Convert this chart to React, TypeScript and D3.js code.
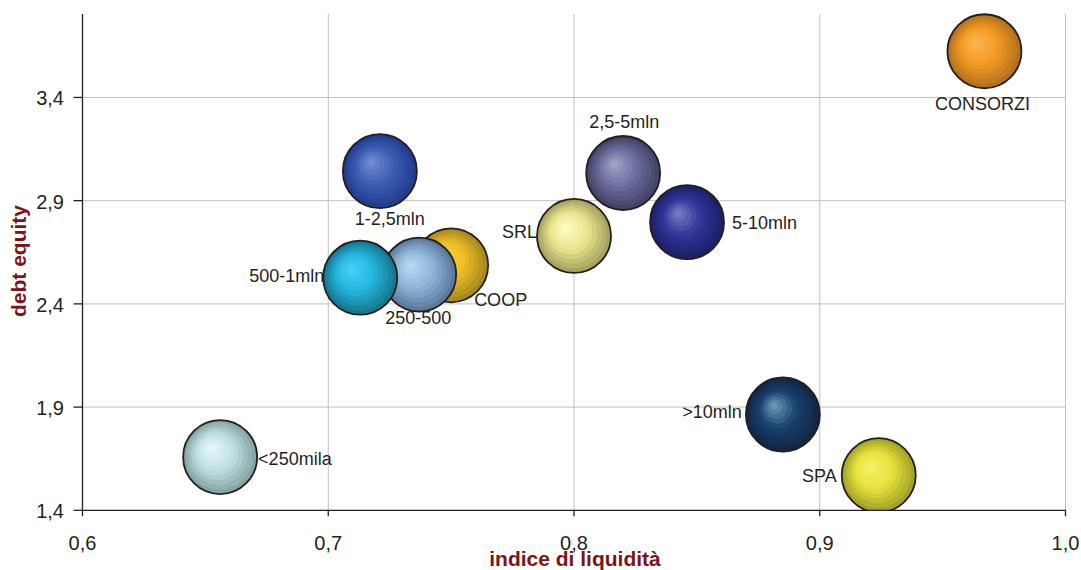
import React from "react";
import * as d3 from "d3";

// Bubble categories and their coordinates
const categories = ["COOP", "250-500", "500-1mln", "<250mila", "1-2,5mln", "2,5-5mln", "5-10mln", "SRL", ">10mln", "SPA", "CONSORZI"];
const liquidity = [0.750, 0.737, 0.713, 0.656, 0.721, 0.820, 0.846, 0.800, 0.885, 0.924, 0.967];
const debtEquity = [2.587, 2.542, 2.527, 1.658, 3.043, 3.034, 2.796, 2.729, 1.864, 1.570, 3.624];

// Shading per bubble: highlight, body, rim
const palette: [string, string, string][] = [
  ["#fbd53a", "#eebd25", "#a88a1e"],
  ["#b8d7f0", "#8fb4d8", "#5c7b9c"],
  ["#48cff3", "#22b6df", "#17798f"],
  ["#e6f5f7", "#bfe0e3", "#86a5a4"],
  ["#6e8ad0", "#3c5db5", "#223d90"],
  ["#9ea0c8", "#6c6e9e", "#424466"],
  ["#7478c0", "#30359a", "#1d206a"],
  ["#fcfac0", "#e8e690", "#a6a45e"],
  ["#6a92b2", "#17406e", "#132645"],
  ["#f4f168", "#e6e23c", "#a6a426"],
  ["#f9b44e", "#f39a22", "#b5721c"],
];

// Label placement relative to each bubble centre: anchor, dx, dy
const labelLayout: [string, number, number][] = [
  ["start", 23, 41],
  ["middle", -1, 49],
  ["end", -36, 4],
  ["start", 38, 8],
  ["middle", 10, 54],
  ["middle", 1, -45],
  ["start", 45, 7],
  ["end", -37, 2],
  ["end", -41, 3],
  ["end", -42, 7],
  ["middle", -2, 59],
];

const xTicks = [0.6, 0.7, 0.8, 0.9, 1.0];
const yTicks = [1.4, 1.9, 2.4, 2.9, 3.4];

const W = 1081;
const H = 570;
const left = 82.5;
const right = 1065.5;
const top = 14.9;
const bottom = 510.3;
const R = 37;

const fmt = d3.formatLocale({ decimal: ",", thousands: ".", grouping: [3], currency: ["", "€"] }).format(".1f");
const FONT = "'Liberation Sans', Arial, sans-serif";

export default function App() {
  const x = d3.scaleLinear().domain([0.6, 1.0]).range([left, right]);
  const y = d3.scaleLinear().domain([1.4, 3.8]).range([bottom, top]);

  const bands = 10;
  const gradients = palette.map((c, i) => {
    const interp = d3.piecewise(d3.interpolateRgb, c);
    const stops: React.ReactElement[] = [];
    for (let b = 0; b < bands; b++) {
      const col = interp(b / (bands - 1));
      stops.push(<stop key={`a${b}`} offset={b / bands} stopColor={col} />);
      stops.push(<stop key={`b${b}`} offset={(b + 1) / bands} stopColor={col} />);
    }
    return (
      <radialGradient key={i} id={`g${i}`} cx="50%" cy="50%" r="50%" fx="37%" fy="37%">
        {stops}
      </radialGradient>
    );
  });

  return (
    <svg width={W} height={H} style={{ position: "absolute", left: 0, top: 0, background: "#fff" }} fontFamily={FONT}>
      <defs>
        {gradients}
        <clipPath id="plot">
          <rect x={left} y={0} width={right - left + 1} height={bottom} />
        </clipPath>
      </defs>
      <rect width={W} height={H} fill="#fff" />
      {/* gridlines */}
      {xTicks.slice(1).map((t) => (
        <line key={`gx${t}`} x1={x(t)} x2={x(t)} y1={top - 1} y2={bottom} stroke="#c0c0c0" strokeWidth={1} />
      ))}
      {yTicks.slice(1).map((t) => (
        <line key={`gy${t}`} x1={left} x2={right} y1={y(t)} y2={y(t)} stroke="#c0c0c0" strokeWidth={1} />
      ))}
      {/* bubbles */}
      <g clipPath="url(#plot)">
        {categories.map((c, i) => (
          <circle key={c} cx={x(liquidity[i])} cy={y(debtEquity[i])} r={R} fill={`url(#g${i})`} stroke="#231f20" strokeWidth={1.8} />
        ))}
      </g>
      {/* axes */}
      <line x1={left} x2={left} y1={top - 1} y2={bottom} stroke="#231f20" strokeWidth={1.3} />
      <line x1={left} x2={right + 0.5} y1={bottom} y2={bottom} stroke="#231f20" strokeWidth={1.3} />
      {yTicks.map((t) => (
        <g key={`ty${t}`}>
          <line x1={left - 9} x2={left} y1={y(t)} y2={y(t)} stroke="#231f20" strokeWidth={1.3} />
          <text x={64} y={y(t) + 8} textAnchor="end" fontSize={20} fill="#231f20">
            {fmt(t)}
          </text>
        </g>
      ))}
      {xTicks.map((t) => (
        <g key={`tx${t}`}>
          <line x1={x(t)} x2={x(t)} y1={bottom} y2={bottom + 6} stroke="#231f20" strokeWidth={1.3} />
          <text x={x(t)} y={550} textAnchor="middle" fontSize={20} fill="#231f20">
            {fmt(t)}
          </text>
        </g>
      ))}
      {/* bubble labels */}
      {categories.map((c, i) => (
        <text
          key={`l${c}`}
          x={x(liquidity[i]) + labelLayout[i][1]}
          y={y(debtEquity[i]) + labelLayout[i][2]}
          textAnchor={labelLayout[i][0] as any}
          fontSize={18}
          fill="#231f20"
        >
          {c}
        </text>
      ))}
      {/* axis titles */}
      <text x={575} y={566} textAnchor="middle" fontSize={21} fontWeight="bold" fill="#7d1418">
        indice di liquidità
      </text>
      <text transform={`translate(26,261) rotate(-90)`} textAnchor="middle" fontSize={21} fontWeight="bold" fill="#7d1418">
        debt equity
      </text>
    </svg>
  );
}
